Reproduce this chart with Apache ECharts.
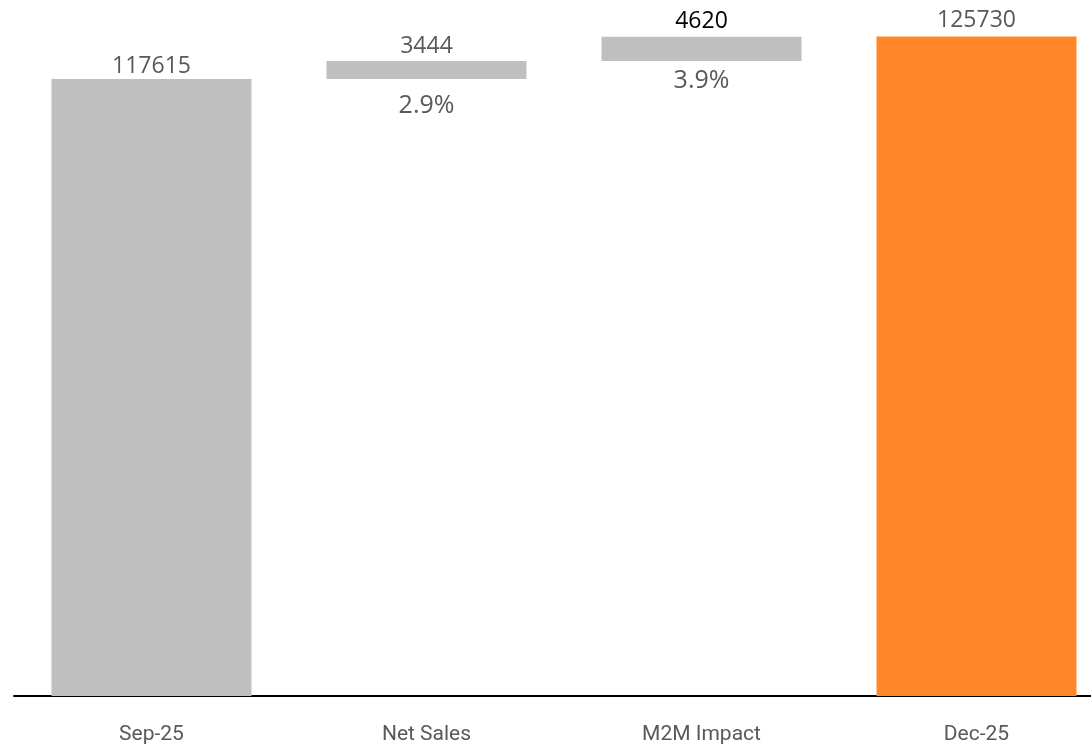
<!DOCTYPE html>
<html>
<head>
<meta charset="utf-8">
<script src="https://cdn.jsdelivr.net/npm/echarts@6/dist/echarts.min.js"></script>
<style>
html,body{margin:0;padding:0;background:#fff;}
#chart{width:1091px;height:746px;}
</style>
</head>
<body>
<div id="chart"></div>
<script>
var categories = ['Sep-25', 'Net Sales', 'M2M Impact', 'Dec-25'];
var startValue = 117615;
var deltas = [3444, 4620];
var endValue = 125730;

// build waterfall
var visible = [startValue].concat(deltas).concat([endValue]);
var base = [0];
var running = startValue;
deltas.forEach(function (d) { base.push(running); running += d; });
base.push(0);
var pct = [null].concat(deltas.map(function (d) { return (d / startValue * 100).toFixed(1) + '%'; })).concat([null]);

var grey = '#BFBFBF', orange = '#FF8729', txt = '#595959';
var barColors = [grey, grey, grey, orange];
var valueLabelColors = [txt, txt, '#000000', txt];
var valueLabelDist = [1, 3, 4, 4];
var pctLabelDist = [0, 14, 7, 0];

var chart = echarts.init(document.getElementById('chart'));
chart.setOption({
  animation: false,
  grid: { left: 14, width: 1100, top: 14, bottom: 50, containLabel: false, outerBoundsMode: 'none' },
  xAxis: {
    type: 'category',
    data: categories,
    axisTick: { show: false },
    axisLine: { lineStyle: { color: '#000', width: 2 } },
    axisLabel: { color: txt, fontSize: 21, fontFamily: 'Roboto', margin: 28 }
  },
  yAxis: { type: 'value', min: 0, max: 130000, show: false, splitLine: { show: false } },
  series: [
    {
      type: 'bar', stack: 'w', barWidth: 200,
      itemStyle: { color: 'transparent' },
      data: base.map(function (b, i) {
        return {
          value: b,
          label: {
            show: pct[i] !== null,
            position: 'insideTop',
            distance: pctLabelDist[i],
            formatter: pct[i] || '',
            color: txt, fontSize: 25, fontFamily: 'Open Sans'
          }
        };
      })
    },
    {
      type: 'bar', stack: 'w', barWidth: 200,
      data: visible.map(function (v, i) {
        return {
          value: v,
          itemStyle: { color: barColors[i] },
          label: {
            show: true, position: 'top', distance: valueLabelDist[i],
            color: valueLabelColors[i], fontSize: 23, fontFamily: 'Open Sans'
          }
        };
      })
    }
  ]
});
</script>
</body>
</html>
